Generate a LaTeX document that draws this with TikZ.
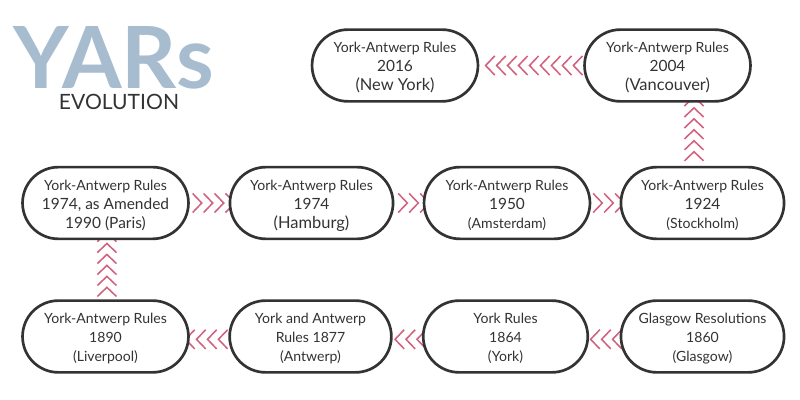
\documentclass[tikz,border=0pt]{standalone}
\usepackage{fontspec}
\setmainfont{Lato}
\usetikzlibrary{decorations.markings,backgrounds}

\definecolor{inkgray}{HTML}{333333}
\definecolor{titleblue}{HTML}{A7BDCF}
\definecolor{chevronpink}{HTML}{D2607F}

% Text sizes
\newcommand{\smalltxt}{\fontsize{10pt}{13.6pt}\selectfont}
\newcommand{\midtxt}{\fontsize{11pt}{13.6pt}\selectfont}
\newcommand{\bigtxt}{\fontsize{11.7pt}{13.6pt}\selectfont}

\tikzset{
    rulebox/.style={draw=inkgray, line width=1.9pt, fill=white, rounded corners=25.5pt,
        minimum height=51pt, align=center, text=inkgray, font=\smalltxt, inner sep=0pt,
        text height=36pt, text depth=0pt},
    chevrons/.style={decorate, decoration={markings,
        mark=between positions #1 and 1 step 7.8pt with {
            \draw[chevronpink, line width=1.1pt] (-6.5pt,-6.8pt) -- (0,0) -- (-6.5pt,6.8pt);
        }}}
}

\begin{document}
\begin{tikzpicture}[x=0.025cm, y=0.025cm]

    % Fix the page size
    \useasboundingbox (0,0) rectangle (800,400);

    % Draw title
    \node[text=titleblue, font=\fontsize{61pt}{61pt}\selectfont\bfseries, inner sep=0pt, anchor=base] (title) at (113.5,311) {YARs};
    \node[text=inkgray, font=\fontsize{15pt}{16pt}\selectfont, inner sep=0pt, anchor=base] (subtitle) at (119,290) {EVOLUTION};

    % Draw top row
    \node[rulebox, minimum width=118pt] (newyork) at (395,334.5) {York-Antwerp Rules\\ {\midtxt 2016}\\ {\bigtxt (New York)}};
    \node[rulebox, minimum width=118pt] (vancouver) at (667.5,334.5) {York-Antwerp Rules\\ {\midtxt 2004}\\ {\bigtxt (Vancouver)}};

    % Draw middle row
    \node[rulebox, minimum width=118pt] (paris) at (105.5,197) {York-Antwerp Rules\\ {\midtxt 1974, as Amended}\\ {\midtxt 1990 (Paris)}};
    \node[rulebox, minimum width=116pt] (hamburg) at (311.5,197) {York-Antwerp Rules\\ {\midtxt 1974}\\ {\bigtxt (Hamburg)}};
    \node[rulebox, minimum width=118pt] (amsterdam) at (507,197) {York-Antwerp Rules\\ {\midtxt 1950}\\ (Amsterdam)};
    \node[rulebox, minimum width=116pt] (stockholm) at (702.5,197) {York-Antwerp Rules\\ {\midtxt 1924}\\ (Stockholm)};

    % Draw bottom row
    \node[rulebox, minimum width=118pt] (liverpool) at (105.5,63.5) {York-Antwerp Rules\\ 1890\\ (Liverpool)};
    \node[rulebox, minimum width=115pt] (antwerp) at (310.5,63.5) {York and Antwerp\\ Rules 1877\\ (Antwerp)};
    \node[rulebox, minimum width=117pt] (york) at (505.5,63.5) {York Rules\\ 1864\\ (York)};
    \node[rulebox, minimum width=116pt] (glasgow) at (702.5,63.5) {Glasgow Resolutions\\ 1860\\ (Glasgow)};

    % Free ends of the two rising rows
    \coordinate (risetop) at (694,285);

    % Draw chevrons behind the boxes
    \begin{scope}[on background layer]
        \path[chevrons=7pt] (vancouver.west) -- (newyork.east);
        \path[chevrons=10pt] (risetop |- stockholm.north) -- ([yshift=12pt]risetop |- vancouver.south);
        \path[chevrons=8.5pt] (paris.east) -- ([xshift=12pt]hamburg.west);
        \path[chevrons=9.2pt] (hamburg.east) -- ([xshift=12pt]amsterdam.west);
        \path[chevrons=7.8pt] (amsterdam.east) -- ([xshift=12pt]stockholm.west);
        \path[chevrons=8.5pt] ([xshift=1pt]liverpool.north) -- ([xshift=1pt,yshift=12pt]paris.south);
        \path[chevrons=5pt] ([yshift=-2pt]glasgow.west) -- ([yshift=-2pt]york.east);
        \path[chevrons=3.5pt] ([yshift=-2pt]york.west) -- ([yshift=-2pt]antwerp.east);
        \path[chevrons=7pt] ([yshift=-2pt]antwerp.west) -- ([xshift=-12pt,yshift=-2pt]liverpool.east);
    \end{scope}

\end{tikzpicture}
\end{document}
